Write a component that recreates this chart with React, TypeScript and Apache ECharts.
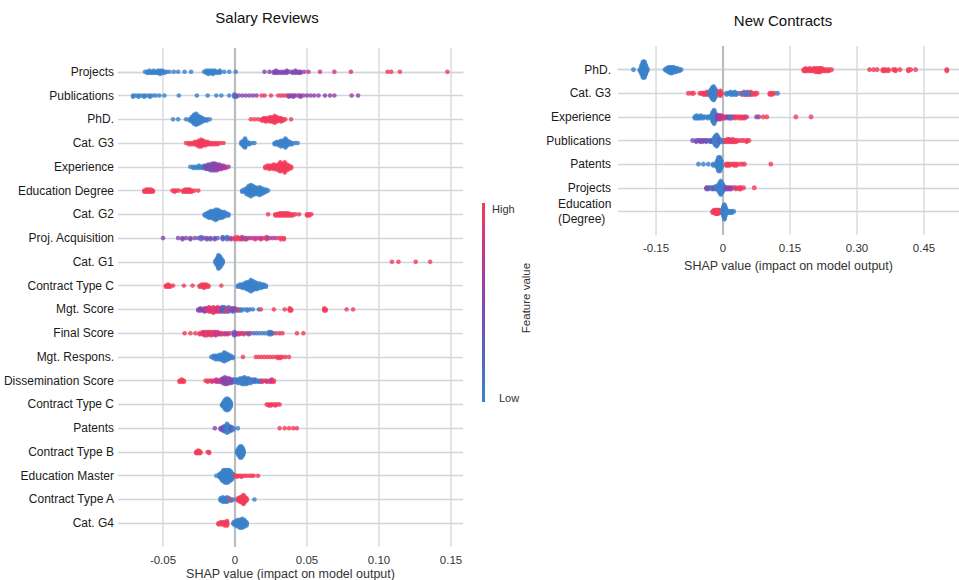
import React, { useEffect, useRef } from 'react';
import * as echarts from 'echarts';

// [SHAP value, number of points at that value, feature value (0 = low, 1 = high)]
type Cluster = [number, number, number];

// ---------- Salary Reviews ----------
const salaryFeatures = [
  'Projects', 'Publications', 'PhD.', 'Cat. G3', 'Experience', 'Education Degree', 'Cat. G2',
  'Proj. Acquisition', 'Cat. G1', 'Contract Type C', 'Mgt. Score', 'Final Score', 'Mgt. Respons.',
  'Dissemination Score', 'Contract Type C', 'Patents', 'Contract Type B', 'Education Master',
  'Contract Type A', 'Cat. G4',
];

const srProjects: Cluster[] = [
  [-0.0625, 1, 0], [-0.061, 2, 0], [-0.0595, 3, 0], [-0.058, 2, 0], [-0.0565, 3, 0], [-0.055, 2, 0],
  [-0.0535, 3, 0], [-0.052, 4, 0], [-0.0505, 3, 0], [-0.049, 2, 0], [-0.0475, 1, 0], [-0.0455, 1, 0],
  [-0.0425, 1, 0], [-0.0395, 1, 0], [-0.035, 1, 0], [-0.0305, 1, 0],
  [-0.0215, 1, 0], [-0.02, 3, 0], [-0.0185, 4, 0], [-0.017, 3, 0], [-0.0155, 4, 0], [-0.014, 3, 0],
  [-0.0125, 2, 0], [-0.0105, 3, 0], [-0.0075, 1, 0], [-0.004, 1, 0], [0.0005, 1, 0],
  [0.0205, 1, 0.5], [0.024, 1, 0.5], [0.027, 2, 0.45], [0.0285, 3, 0.5], [0.03, 2, 0.4], [0.032, 2, 0.55],
  [0.034, 2, 0.45], [0.036, 3, 0.5], [0.038, 1, 0.6], [0.04, 2, 0.4], [0.042, 3, 0.45], [0.044, 2, 0.55],
  [0.0455, 2, 0.5], [0.048, 1, 0.65], [0.051, 1, 0.7],
  [0.059, 1, 0.8], [0.069, 1, 0.8], [0.0805, 1, 0.8], [0.106, 1, 1], [0.1085, 1, 1], [0.1145, 1, 1], [0.1475, 1, 1],
];
const srPublications: Cluster[] = [
  [-0.0708, 2, 0], [-0.069, 1, 0], [-0.067, 2, 0], [-0.065, 1, 0], [-0.063, 2, 0], [-0.061, 1, 0],
  [-0.059, 2, 0], [-0.057, 1, 0], [-0.055, 1, 0], [-0.0525, 1, 0], [-0.049, 1, 0], [-0.039, 1, 0],
  [-0.0265, 1, 0], [-0.019, 1, 0], [-0.013, 1, 0], [-0.0095, 1, 0], [-0.004, 1, 0], [-0.0005, 3, 0.1],
  [0.0008, 2, 0.3], [0.0025, 1, 0.5], [0.005, 1, 0.45], [0.0075, 1, 0.5], [0.01, 1, 0.55], [0.0125, 1, 0.5],
  [0.015, 1, 0.6], [0.0185, 1, 1], [0.0205, 1, 0.95], [0.025, 1, 1], [0.03, 1, 1], [0.032, 1, 0.95],
  [0.034, 1, 1], [0.036, 1, 0.9], [0.0375, 2, 0.5], [0.039, 1, 0.55], [0.0405, 2, 0.45], [0.042, 1, 0.5],
  [0.044, 1, 0.7], [0.0455, 2, 0.55], [0.0475, 1, 0.6], [0.05, 1, 0.5], [0.0525, 1, 0.55], [0.055, 1, 0.6],
  [0.058, 1, 0.5], [0.0625, 1, 0.5], [0.066, 1, 0.6], [0.069, 1, 0.55], [0.081, 1, 0.6], [0.0855, 1, 0.55],
];
const srPhD: Cluster[] = [
  [-0.043, 1, 0], [-0.0395, 1, 0], [-0.034, 1, 0], [-0.0315, 2, 0], [-0.03, 5, 0], [-0.0285, 9, 0],
  [-0.027, 11, 0], [-0.0255, 8, 0], [-0.024, 6, 0], [-0.0225, 4, 0], [-0.021, 2, 0], [-0.0195, 2, 0], [-0.0175, 1, 0],
  [0.011, 1, 1], [0.0135, 1, 1], [0.016, 1, 1], [0.0185, 2, 1], [0.02, 3, 1], [0.0215, 4, 1], [0.023, 3, 1],
  [0.0245, 5, 1], [0.026, 4, 1], [0.0275, 7, 1], [0.029, 5, 1], [0.0305, 3, 1], [0.032, 4, 1], [0.0335, 2, 1],
  [0.035, 1, 1], [0.039, 1, 1],
];
const srCatG3: Cluster[] = [
  [-0.034, 1, 1], [-0.032, 2, 1], [-0.03, 2, 1], [-0.028, 3, 1], [-0.0265, 4, 1], [-0.025, 6, 1],
  [-0.0235, 7, 1], [-0.022, 5, 1], [-0.0205, 4, 1], [-0.019, 3, 1], [-0.0175, 2, 1], [-0.016, 2, 1],
  [-0.014, 2, 1], [-0.012, 2, 1], [-0.01, 1, 1], [-0.008, 1, 1],
  [0.0045, 3, 0], [0.006, 6, 0], [0.007, 9, 0], [0.0085, 3, 0], [0.01, 2, 0], [0.012, 1, 0], [0.0135, 1, 0],
  [0.0275, 2, 0], [0.029, 3, 0], [0.0305, 4, 0], [0.032, 6, 0], [0.0335, 5, 0], [0.035, 9, 0], [0.0365, 5, 0],
  [0.038, 3, 0], [0.0395, 2, 0], [0.0415, 1, 0], [0.0435, 1, 0],
];
const srExperience: Cluster[] = [
  [-0.031, 1, 0], [-0.029, 2, 0], [-0.027, 2, 0], [-0.025, 3, 0], [-0.023, 2, 0], [-0.0215, 3, 0.2],
  [-0.02, 4, 0.4], [-0.0185, 5, 0.5], [-0.017, 6, 0.35], [-0.0155, 7, 0.55], [-0.014, 7, 0.45],
  [-0.0125, 6, 0.6], [-0.011, 5, 0.5], [-0.0095, 4, 0.65], [-0.008, 3, 0.55], [-0.0065, 2, 0.7], [-0.0045, 1, 0.6],
  [0.021, 2, 1], [0.0225, 3, 1], [0.024, 4, 1], [0.0255, 3, 1], [0.027, 5, 1], [0.0285, 4, 1], [0.03, 6, 1],
  [0.0315, 9, 1], [0.033, 6, 1], [0.0345, 10, 1], [0.036, 6, 1], [0.0375, 4, 1], [0.039, 2, 1],
];
const srEducationDegree: Cluster[] = [
  [-0.063, 2, 1], [-0.0615, 3, 1], [-0.06, 3, 1], [-0.0585, 3, 1], [-0.057, 2, 1], [-0.0435, 1, 1],
  [-0.042, 2, 1], [-0.0405, 1, 1], [-0.039, 1, 1], [-0.036, 2, 1], [-0.0345, 3, 1], [-0.033, 3, 1],
  [-0.0315, 3, 1], [-0.03, 2, 1], [-0.028, 1, 1], [-0.0255, 1, 1],
  [0.005, 2, 0], [0.0065, 3, 0], [0.008, 6, 0], [0.0095, 9, 0], [0.011, 11, 0], [0.0125, 9, 0],
  [0.014, 7, 0], [0.0155, 6, 0], [0.017, 8, 0], [0.0185, 6, 0], [0.02, 4, 0], [0.0215, 3, 0], [0.023, 1, 0],
];
const srCatG2: Cluster[] = [
  [-0.021, 2, 0], [-0.0195, 4, 0], [-0.018, 6, 0], [-0.0165, 7, 0], [-0.015, 8, 0], [-0.0135, 10, 0],
  [-0.012, 9, 0], [-0.0105, 7, 0], [-0.009, 6, 0], [-0.0075, 5, 0], [-0.006, 3, 0], [-0.0045, 2, 0],
  [0.023, 1, 1], [0.028, 2, 1], [0.0295, 2, 1], [0.031, 3, 1], [0.0325, 3, 1], [0.034, 3, 1], [0.0355, 3, 1],
  [0.037, 3, 1], [0.0385, 2, 1], [0.04, 2, 1], [0.042, 1, 1], [0.0445, 1, 1], [0.05, 2, 1], [0.0515, 2, 1], [0.053, 1, 1],
];
const srProjAcquisition: Cluster[] = [
  [-0.05, 1, 0.5], [-0.0395, 1, 0.5], [-0.0365, 2, 0.45], [-0.034, 1, 0.5], [-0.031, 2, 0.5], [-0.028, 1, 0.4],
  [-0.0255, 1, 0.5], [-0.0235, 3, 0.1], [-0.0215, 1, 0.5], [-0.0195, 2, 0.5], [-0.017, 2, 0.4], [-0.014, 2, 0.45],
  [-0.012, 1, 0.2], [-0.0085, 3, 0.35], [-0.0055, 3, 0.15], [-0.003, 2, 0.6], [-0.0005, 2, 0.9], [0.0015, 3, 1],
  [0.0035, 2, 0.95], [0.005, 3, 0.8], [0.007, 2, 0.3], [0.008, 2, 0.9], [0.01, 1, 0.5], [0.012, 1, 0.75],
  [0.014, 2, 0.85], [0.016, 1, 0.8], [0.018, 2, 0.75], [0.02, 1, 0.85], [0.022, 3, 0.9], [0.024, 1, 0.5],
  [0.026, 1, 0.8], [0.028, 1, 0.55], [0.03, 1, 1], [0.032, 2, 1], [0.034, 2, 1],
];
const srCatG1: Cluster[] = [
  [-0.0135, 3, 0], [-0.0125, 7, 0], [-0.0115, 13, 0], [-0.0105, 11, 0], [-0.0095, 7, 0], [-0.0085, 3, 0],
  [0.109, 1, 1], [0.1135, 1, 1], [0.1255, 1, 1], [0.1355, 1, 1],
];
const srContractTypeC: Cluster[] = [
  [-0.048, 2, 1], [-0.0465, 3, 1], [-0.045, 2, 1], [-0.043, 1, 1], [-0.0355, 1, 1], [-0.0295, 1, 1],
  [-0.0245, 2, 1], [-0.023, 3, 1], [-0.0215, 4, 1], [-0.02, 3, 1], [-0.0185, 2, 1], [-0.0095, 1, 1],
  [0.002, 2, 0], [0.0035, 3, 0], [0.005, 4, 0], [0.0065, 5, 0], [0.008, 7, 0], [0.0095, 8, 0], [0.011, 11, 0],
  [0.0125, 9, 0], [0.014, 7, 0], [0.0155, 6, 0], [0.017, 5, 0], [0.0185, 4, 0], [0.02, 3, 0], [0.0215, 2, 0],
];
const srMgtScore: Cluster[] = [
  [-0.0255, 2, 0.5], [-0.024, 3, 0.45], [-0.0225, 2, 0.5], [-0.021, 4, 0.55], [-0.0195, 3, 0.8], [-0.018, 5, 0.9],
  [-0.0165, 4, 0.85], [-0.015, 6, 0.95], [-0.0135, 4, 0.9], [-0.012, 5, 0.8], [-0.0105, 4, 0.9], [-0.009, 5, 0.4],
  [-0.0075, 5, 0.2], [-0.006, 4, 0.9], [-0.0045, 5, 0.1], [-0.003, 3, 0.85], [-0.0015, 4, 0.3], [0.0, 3, 0.6],
  [0.0015, 2, 0.2], [0.003, 2, 0.9], [0.0045, 2, 0], [0.0065, 1, 0], [0.0085, 2, 0], [0.0105, 1, 0.1],
  [0.0125, 1, 0], [0.0165, 1, 0], [0.018, 1, 1], [0.027, 1, 1], [0.0345, 1, 1], [0.038, 3, 1], [0.039, 2, 1],
  [0.062, 3, 1], [0.063, 2, 1], [0.0775, 1, 1], [0.082, 1, 1],
];
const srFinalScore: Cluster[] = [
  [-0.035, 1, 1], [-0.031, 1, 1], [-0.0275, 1, 1], [-0.0245, 2, 1], [-0.0225, 3, 0.9], [-0.021, 4, 0.8],
  [-0.0195, 4, 1], [-0.018, 3, 0.85], [-0.0165, 4, 0.9], [-0.015, 3, 1], [-0.0135, 4, 0.75], [-0.012, 3, 0.9],
  [-0.0105, 2, 0.6], [-0.009, 2, 0.9], [-0.007, 2, 0.8], [-0.005, 2, 0.7], [-0.003, 1, 0.9], [-0.0005, 4, 0.3],
  [0.0015, 2, 0.5], [0.003, 2, 0.9], [0.0045, 1, 0.8], [0.006, 2, 0.9], [0.008, 1, 0.7], [0.0095, 2, 0.2],
  [0.011, 1, 0.9], [0.013, 1, 0.1], [0.015, 1, 0.2], [0.017, 1, 0], [0.019, 1, 0], [0.021, 1, 0.1],
  [0.0235, 3, 0], [0.025, 3, 0.1], [0.0265, 1, 0.2], [0.0285, 1, 1], [0.031, 1, 0.9], [0.033, 1, 1],
  [0.043, 1, 1], [0.0475, 1, 1],
];
const srMgtRespons: Cluster[] = [
  [-0.0165, 1, 0], [-0.015, 3, 0], [-0.0135, 4, 0], [-0.012, 4, 0], [-0.0105, 5, 0], [-0.009, 6, 0],
  [-0.0075, 9, 0], [-0.006, 7, 0], [-0.0045, 5, 0], [-0.003, 3, 0], [-0.0015, 2, 0],
  [0.0055, 1, 1], [0.0145, 1, 1], [0.0165, 1, 1], [0.0185, 1, 1], [0.0205, 1, 1], [0.0225, 1, 1],
  [0.0245, 1, 1], [0.0265, 1, 1], [0.0285, 1, 1], [0.03, 2, 1], [0.0315, 2, 1], [0.033, 1, 1],
  [0.035, 1, 1], [0.0375, 1, 1],
];
const srDissemination: Cluster[] = [
  [-0.0385, 2, 1], [-0.037, 3, 1], [-0.0355, 2, 1], [-0.0205, 1, 1], [-0.019, 2, 1], [-0.0175, 1, 1],
  [-0.016, 2, 0.9], [-0.0145, 1, 0.8], [-0.013, 3, 0.75], [-0.0115, 2, 0.7], [-0.01, 3, 0.85], [-0.0085, 5, 0.5],
  [-0.007, 7, 0.55], [-0.0055, 6, 0.45], [-0.004, 5, 0.6], [-0.0025, 4, 0.5], [-0.001, 3, 0.4],
  [0.0005, 3, 0], [0.002, 4, 0.1], [0.0035, 5, 0], [0.005, 6, 0], [0.0065, 7, 0.05], [0.008, 6, 0],
  [0.0095, 5, 0.1], [0.011, 4, 0], [0.0125, 3, 0], [0.014, 3, 0.2], [0.016, 2, 0], [0.0175, 2, 0.1],
  [0.019, 2, 0.85], [0.0205, 1, 1], [0.022, 2, 0.8], [0.024, 2, 0.9], [0.0255, 3, 0.75], [0.027, 2, 1],
];
const srContractTypeC2: Cluster[] = [
  [-0.009, 2, 0], [-0.008, 5, 0], [-0.007, 9, 0], [-0.006, 11, 0], [-0.005, 11, 0], [-0.004, 9, 0], [-0.003, 5, 0],
  [0.022, 1, 1], [0.0235, 2, 1], [0.025, 2, 1], [0.0265, 1, 1], [0.028, 2, 1], [0.0295, 1, 1], [0.031, 1, 1],
];
const srPatents: Cluster[] = [
  [-0.014, 1, 0.5], [-0.01, 2, 0.5], [-0.0085, 4, 0.45], [-0.007, 6, 0.2], [-0.0055, 9, 0], [-0.004, 6, 0],
  [-0.0025, 4, 0.3], [-0.001, 2, 0], [0.002, 1, 0], [0.031, 1, 1], [0.0345, 1, 1], [0.0375, 1, 1],
  [0.0405, 1, 1], [0.043, 1, 1],
];
const srContractTypeB: Cluster[] = [
  [-0.027, 2, 1], [-0.026, 3, 1], [-0.025, 3, 1], [-0.024, 2, 1], [-0.019, 1, 1], [-0.018, 2, 1],
  [0.0015, 3, 0], [0.0025, 7, 0], [0.0035, 11, 0], [0.0045, 11, 0], [0.0055, 7, 0], [0.006, 3, 0],
];
const srEducationMaster: Cluster[] = [
  [-0.013, 1, 0], [-0.011, 3, 0], [-0.01, 5, 0], [-0.009, 8, 0], [-0.008, 11, 0], [-0.007, 12, 0],
  [-0.006, 12, 0], [-0.005, 12, 0], [-0.004, 11, 0], [-0.003, 9, 0], [-0.002, 6, 0], [-0.001, 3, 0],
  [0.0, 1, 1], [0.0015, 2, 1], [0.003, 1, 1], [0.0045, 2, 1], [0.0065, 1, 1], [0.008, 1, 1], [0.01, 1, 1],
  [0.0115, 1, 1], [0.013, 1, 1], [0.016, 1, 1],
];
const srContractTypeA: Cluster[] = [
  [-0.01, 3, 0], [-0.0085, 5, 0], [-0.007, 4, 0], [-0.0055, 5, 0], [-0.004, 3, 0], [-0.0025, 2, 0], [-0.001, 1, 0],
  [-0.004, 1, 1], [0.002, 3, 1], [0.0035, 5, 1], [0.005, 7, 1], [0.006, 9, 1], [0.007, 5, 1], [0.008, 3, 1],
  [0.0135, 1, 0],
];
const srCatG4: Cluster[] = [
  [-0.0115, 2, 1], [-0.01, 3, 1], [-0.0085, 3, 1], [-0.007, 4, 1], [-0.0055, 5, 1],
  [-0.001, 3, 0], [0.0005, 5, 0], [0.002, 7, 0], [0.0035, 8, 0], [0.005, 9, 0], [0.0065, 7, 0], [0.008, 4, 0],
];

const salaryRows: Cluster[][] = [
  srProjects, srPublications, srPhD, srCatG3, srExperience, srEducationDegree, srCatG2, srProjAcquisition,
  srCatG1, srContractTypeC, srMgtScore, srFinalScore, srMgtRespons, srDissemination, srContractTypeC2,
  srPatents, srContractTypeB, srEducationMaster, srContractTypeA, srCatG4,
];

// ---------- New Contracts ----------
const contractFeatures = ['PhD.', 'Cat. G3', 'Experience', 'Publications', 'Patents', 'Projects', 'Education\n(Degree)'];

const ncPhD: Cluster[] = [
  [-0.2005, 1, 0], [-0.186, 2, 0], [-0.182, 9, 0], [-0.179, 15, 0], [-0.176, 15, 0], [-0.173, 9, 0], [-0.17, 3, 0],
  [-0.13, 1, 0], [-0.126, 3, 0], [-0.122, 5, 0], [-0.118, 6, 0], [-0.114, 6, 0], [-0.11, 5, 0], [-0.106, 4, 0],
  [-0.102, 3, 0], [-0.098, 2, 0], [-0.094, 1, 0],
  [0.181, 2, 1], [0.185, 3, 1], [0.189, 2, 1], [0.194, 3, 1], [0.198, 2, 1], [0.203, 3, 1], [0.208, 4, 1],
  [0.213, 4, 1], [0.217, 4, 1], [0.221, 3, 1], [0.226, 2, 1], [0.231, 2, 1], [0.237, 2, 1], [0.243, 1, 1],
  [0.328, 1, 1], [0.337, 1, 1], [0.345, 1, 1], [0.358, 2, 1], [0.363, 2, 1], [0.37, 2, 1], [0.381, 1, 1],
  [0.386, 2, 1], [0.396, 1, 1], [0.415, 2, 1], [0.42, 1, 1], [0.431, 1, 1], [0.501, 2, 1],
];
const ncCatG3: Cluster[] = [
  [-0.0775, 1, 1], [-0.07, 1, 1], [-0.066, 1, 1], [-0.052, 1, 1], [-0.048, 1, 1], [-0.044, 2, 1], [-0.04, 2, 1],
  [-0.036, 3, 1], [-0.032, 2, 1],
  [-0.03, 3, 0], [-0.027, 7, 0], [-0.024, 11, 0], [-0.021, 13, 0], [-0.018, 9, 0], [-0.015, 5, 0],
  [-0.01, 1, 1], [-0.006, 5, 1], [-0.003, 1, 1],
  [0.008, 2, 0], [0.013, 1, 0], [0.017, 3, 0], [0.021, 2, 0], [0.026, 3, 0], [0.03, 2, 0], [0.036, 1, 0],
  [0.042, 2, 1], [0.047, 3, 1], [0.051, 2, 1], [0.055, 3, 0.9], [0.059, 2, 1], [0.062, 3, 1], [0.066, 2, 1],
  [0.072, 2, 1], [0.076, 1, 1], [0.044, 1, 0], [0.05, 2, 0], [0.058, 1, 0],
  [0.105, 2, 1], [0.11, 2, 1], [0.115, 1, 1], [0.122, 1, 0],
];
const ncExperience: Cluster[] = [
  [-0.063, 2, 0], [-0.059, 3, 0], [-0.055, 2, 0], [-0.05, 3, 0], [-0.044, 2, 0], [-0.04, 1, 0], [-0.034, 2, 0],
  [-0.03, 1, 0], [-0.026, 3, 0], [-0.023, 9, 0], [-0.02, 13, 0], [-0.017, 7, 0],
  [-0.013, 4, 0.55], [-0.01, 3, 0.6], [-0.007, 4, 0.65], [-0.004, 3, 0.7], [0.0, 2, 0.8], [0.004, 2, 0.85],
  [0.008, 1, 0.7], [0.012, 2, 0.5], [0.016, 2, 0.2], [0.02, 2, 0.1], [0.024, 1, 0.8], [0.028, 2, 0.9],
  [0.032, 1, 1], [0.037, 2, 1], [0.042, 2, 1], [0.048, 2, 0.9], [0.053, 1, 0.8],
  [0.075, 1, 0.6], [0.08, 1, 0.55], [0.09, 1, 1], [0.098, 1, 1], [0.163, 1, 1], [0.197, 1, 1],
];
const ncPublications: Cluster[] = [
  [-0.068, 1, 0.45], [-0.06, 2, 0.4], [-0.055, 1, 0.3], [-0.051, 2, 0.5], [-0.046, 2, 0.45], [-0.042, 1, 0.5],
  [-0.038, 2, 0.4], [-0.034, 1, 0.3], [-0.029, 2, 0.2], [-0.025, 2, 0.45],
  [-0.02, 5, 0], [-0.017, 9, 0], [-0.014, 11, 0.05], [-0.011, 7, 0], [-0.008, 3, 0.3], [-0.003, 2, 0], [0.002, 2, 0.1],
  [0.006, 2, 1], [0.01, 3, 1], [0.014, 3, 1], [0.018, 2, 0.9], [0.022, 3, 1], [0.026, 2, 1], [0.03, 2, 1],
  [0.035, 1, 1], [0.041, 1, 1], [0.046, 1, 1], [0.053, 2, 1], [0.058, 1, 1],
];
const ncPatents: Cluster[] = [
  [-0.055, 1, 0], [-0.044, 1, 0], [-0.033, 1, 0], [-0.022, 2, 0], [-0.016, 2, 0], [-0.013, 7, 0], [-0.01, 13, 0],
  [-0.007, 13, 0], [-0.004, 7, 0],
  [0.007, 2, 1], [0.011, 2, 1], [0.015, 2, 1], [0.02, 1, 1], [0.025, 2, 1], [0.03, 2, 1], [0.037, 1, 1],
  [0.043, 1, 1], [0.048, 1, 1], [0.107, 1, 1],
];
const ncProjects: Cluster[] = [
  [-0.037, 2, 0.5], [-0.033, 2, 0.45], [-0.029, 1, 0.2], [-0.025, 2, 0], [-0.021, 2, 0.5], [-0.017, 3, 0.1],
  [-0.011, 5, 0], [-0.008, 9, 0], [-0.005, 13, 0], [-0.002, 9, 0], [0.001, 5, 0],
  [0.006, 2, 0.4], [0.01, 2, 0.5], [0.014, 2, 0.6], [0.018, 2, 0.5], [0.024, 1, 0.7], [0.029, 2, 0.9],
  [0.036, 2, 1], [0.04, 2, 1], [0.046, 1, 1], [0.07, 1, 1],
];
const ncEducationDegree: Cluster[] = [
  [-0.023, 2, 1], [-0.02, 3, 1], [-0.017, 4, 1], [-0.014, 4, 1], [-0.011, 4, 1], [-0.008, 3, 1], [-0.005, 2, 1],
  [-0.001, 3, 0], [0.001, 9, 0], [0.003, 14, 0], [0.005, 9, 0], [0.008, 3, 0], [0.012, 2, 0], [0.016, 2, 0],
  [0.02, 2, 0], [0.024, 1, 0],
];

const contractRows: Cluster[][] = [
  ncPhD, ncCatG3, ncExperience, ncPublications, ncPatents, ncProjects, ncEducationDegree,
];

// ---------- Axis ticks ----------
const salaryTicks = [-0.05, 0, 0.05, 0.1, 0.15];
const salaryTickLabels = ['-0.05', '0', '0.05', '0.10', '0.15'];
const contractTicks = [-0.15, 0, 0.15, 0.3, 0.45];
const contractTickLabels = ['-0.15', '0', '0.15', '0.30', '0.45'];

const FONT = '"Liberation Sans", Arial, Helvetica, sans-serif';
const GRID_COLOR = '#d2d6db';
const ZERO_COLOR = '#b9bdc2';
const FEATURE_COLORS = ['#3b82ca', '#5b62c0', '#8446b0', '#c5368e', '#f23c5a'];
const LAYER_STEP = 0.047; // vertical step between stacked dots, in row units

// beeswarm layout: the points of each cluster are stacked alternately above and below the row line
function swarm(rows: Cluster[][]): number[][] {
  const out: number[][] = [];
  rows.forEach((clusters, r) => {
    clusters.forEach(([x, n, v]) => {
      for (let layer = 0; layer < n; layer++) {
        const off = Math.ceil(layer / 2) * (layer % 2 ? 1 : -1);
        out.push([x, r + off * LAYER_STEP, v]);
      }
    });
  });
  return out;
}

function xGrid(ticks: number[], labels: string[], yMin: number, yMax: number) {
  return (_params: any, api: any) => {
    const children: any[] = [];
    ticks.forEach((t, i) => {
      const a = api.coord([t, yMin]);
      const b = api.coord([t, yMax]);
      const bottom = Math.max(a[1], b[1]);
      children.push({
        type: 'line',
        shape: { x1: a[0], y1: a[1], x2: b[0], y2: b[1] },
        style: { stroke: t === 0 ? ZERO_COLOR : GRID_COLOR, lineWidth: t === 0 ? 2.2 : 1.3 },
      });
      children.push({
        type: 'text',
        x: a[0],
        y: bottom + 13,
        style: { text: labels[i], fill: '#333', fontSize: 11.5, fontFamily: FONT, align: 'center', verticalAlign: 'middle' },
      });
    });
    return { type: 'group', children };
  };
}

function yAxisFor(gridIndex: number, names: string[]) {
  return {
    type: 'value',
    gridIndex,
    inverse: true,
    min: -1,
    max: names.length,
    interval: 1,
    axisLine: { show: false },
    axisTick: { show: false },
    axisLabel: {
      margin: gridIndex === 0 ? 4 : 7,
      color: '#1a1a1a',
      fontSize: 12,
      fontFamily: FONT,
      lineHeight: 15,
      formatter: (v: number) => {
        const name = names[Math.round(v)] ?? '';
        return name.includes('\n') ? name.split('\n').map((l) => `{ml|${l}}`).join('\n') : name;
      },
      rich: {
        ml: { width: 53, align: 'left', color: '#1a1a1a', fontSize: 12, fontFamily: FONT, lineHeight: 15 },
      },
    },
    splitLine: { show: true, showMinLine: false, showMaxLine: false, lineStyle: { color: GRID_COLOR, width: 1.3 } },
  };
}

function xAxisFor(gridIndex: number, min: number, max: number, nameGap: number) {
  return {
    type: 'value',
    gridIndex,
    min,
    max,
    axisLine: { show: true, lineStyle: { color: GRID_COLOR, width: 1.3 } },
    axisTick: { show: false },
    axisLabel: { show: false },
    splitLine: { show: false },
    name: 'SHAP value (impact on model output)',
    nameLocation: 'middle',
    nameGap,
    nameTextStyle: { color: '#333', fontSize: 12.5, fontFamily: FONT },
  };
}

export default function App() {
  const ref = useRef<HTMLDivElement>(null);
  useEffect(() => {
    if (!ref.current) return;
    const chart = echarts.init(ref.current, undefined, { renderer: 'svg' });
    const option: any = {
      animation: false,
      backgroundColor: '#ffffff',
      textStyle: { fontFamily: FONT },
      grid: [
        { left: 118, top: 48, width: 345, height: 499, containLabel: false, outerBoundsMode: 'none' },
        { left: 618, top: 46, width: 341, height: 189, containLabel: false, outerBoundsMode: 'none' },
      ],
      xAxis: [xAxisFor(0, -0.08125, 0.15833, 20), xAxisFor(1, -0.2351, 0.5283, 24)],
      yAxis: [yAxisFor(0, salaryFeatures), yAxisFor(1, contractFeatures)],
      visualMap: {
        type: 'continuous',
        show: false,
        min: 0,
        max: 1,
        dimension: 2,
        seriesIndex: [1, 3],
        inRange: { color: FEATURE_COLORS },
      },
      series: [
        {
          type: 'custom',
          xAxisIndex: 0,
          yAxisIndex: 0,
          silent: true,
          clip: false,
          z: 1,
          data: [[0, 0]],
          renderItem: xGrid(salaryTicks, salaryTickLabels, -1, salaryFeatures.length),
        },
        {
          type: 'scatter',
          xAxisIndex: 0,
          yAxisIndex: 0,
          z: 3,
          symbolSize: 4.6,
          silent: true,
          data: swarm(salaryRows),
        },
        {
          type: 'custom',
          xAxisIndex: 1,
          yAxisIndex: 1,
          silent: true,
          clip: false,
          z: 1,
          data: [[0, 0]],
          renderItem: xGrid(contractTicks, contractTickLabels, -1, contractFeatures.length),
        },
        {
          type: 'scatter',
          xAxisIndex: 1,
          yAxisIndex: 1,
          z: 3,
          symbolSize: 5,
          silent: true,
          data: swarm(contractRows),
        },
      ],
      graphic: [
        {
          type: 'text', x: 267, y: 17,
          style: { text: 'Salary Reviews', fontSize: 15, fill: '#111', fontFamily: FONT, align: 'center', verticalAlign: 'middle' },
        },
        {
          type: 'text', x: 783, y: 20,
          style: { text: 'New Contracts', fontSize: 15, fill: '#111', fontFamily: FONT, align: 'center', verticalAlign: 'middle' },
        },
        {
          type: 'rect',
          shape: { x: 482, y: 203, width: 3, height: 199 },
          style: {
            fill: {
              type: 'linear', x: 0, y: 0, x2: 0, y2: 1,
              colorStops: FEATURE_COLORS.slice().reverse().map((c, i, arr) => ({ offset: i / (arr.length - 1), color: c })),
            },
          },
        },
        {
          type: 'text', x: 492, y: 209,
          style: { text: 'High', fontSize: 11, fill: '#333', fontFamily: FONT, align: 'left', verticalAlign: 'middle' },
        },
        {
          type: 'text', x: 499, y: 398,
          style: { text: 'Low', fontSize: 11, fill: '#333', fontFamily: FONT, align: 'left', verticalAlign: 'middle' },
        },
        {
          type: 'text', x: 526, y: 298, rotation: Math.PI / 2,
          style: { text: 'Feature value', fontSize: 11.5, fill: '#333', fontFamily: FONT, align: 'center', verticalAlign: 'middle' },
        },
      ],
    };
    chart.setOption(option);
    return () => chart.dispose();
  }, []);
  return (
    <div
      ref={ref}
      style={{ position: 'fixed', left: 0, top: 0, width: 959, height: 580, background: '#fff' }}
    />
  );
}
